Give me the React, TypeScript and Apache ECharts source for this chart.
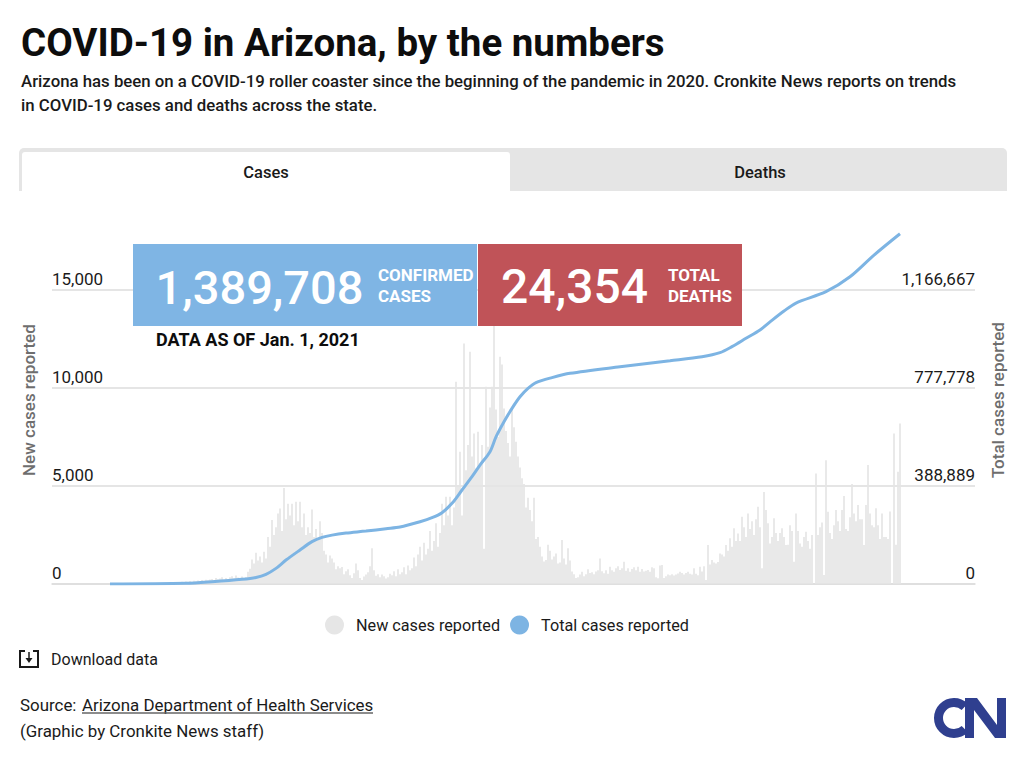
import React, { useEffect, useRef } from "react";
import * as echarts from "echarts";

const FONT = "Roboto";
const leftTickStep = 5000;
const rightTickStep = 388889;
const seriesNames = ["New cases reported", "Total cases reported"];
const newCases = [
  0,0,0,0,0,0,0,0,0,0,
  0,0,0,0,0,0,0,0,0,0,
  10,10,20,20,30,30,40,50,40,60,
  70,60,80,90,70,90,110,100,130,110,
  150,120,160,140,180,150,200,170,220,190,
  230,260,180,310,240,280,350,220,300,260,
  340,400,290,430,330,270,380,310,360,620,
  780,1250,1050,1600,1200,1400,1100,1650,1300,2400,
  1900,3270,2500,2900,3600,3850,2700,4900,3300,4100,
  3500,4100,3000,4200,3200,4200,2900,3600,2500,2900,
  2600,3800,2400,2800,2300,3200,2600,1700,1500,1100,
  1450,1300,1100,750,900,800,870,500,650,750,
  450,300,550,1050,700,300,200,380,480,600,
  900,1830,700,420,500,350,480,400,280,350,
  520,450,650,400,750,500,600,850,500,950,
  700,800,1350,900,1500,1900,1200,2100,1500,1800,
  2700,1700,2200,3100,1900,2600,4100,3000,4450,3500,
  4450,3000,3900,10320,5000,6750,3500,12270,5800,7090,
  11850,6500,7680,5900,7770,6000,7090,1800,10060,7000,
  9000,10060,13300,8900,7500,11600,11200,8960,7800,7200,
  6500,8960,8000,7260,6500,5950,5400,5100,3900,4400,
  3770,3200,4400,2300,2400,1900,1400,1150,1220,2000,
  1700,1250,1400,1560,1050,1100,2240,1300,1000,1820,
  1200,640,500,300,350,480,630,400,500,750,
  560,600,500,640,700,1300,650,550,700,520,
  880,700,620,800,900,720,800,1140,680,800,
  620,760,860,700,880,620,760,640,680,720,
  620,850,800,350,290,950,970,300,400,480,
  450,500,430,480,540,620,560,480,560,620,
  520,480,800,520,450,880,640,900,200,1990,
  1000,1220,1100,1050,1120,1560,1500,1400,1990,1700,
  2330,1900,2840,2200,2580,2200,3430,2900,2400,3600,
  2800,3200,2500,3300,3940,2900,800,4700,3770,3100,
  2070,2400,3350,2600,2200,2600,2840,2400,1990,2000,
  3000,2700,1140,3600,2700,2070,1900,2400,2670,2200,
  1800,2500,0,5640,2500,2900,3140,460,6320,3690,
  2600,2300,3000,3770,3200,2700,3770,4490,2800,2700,
  3400,5100,3600,3200,4030,3300,3300,1990,4030,6070,
  3600,3000,2900,3860,3000,2300,3600,2400,2400,2300,
  3700,0,7680,2000,5730,8190,
];
const totalAt = [0,38,51,66,73,78,83,88,95,101,106,111,118,128,138,145,155,161,166,171,176,181,185,190,193,197,201,205,209,213,221,230,255,280,296,305,311,318,325,330,337,343,358,370,382,395];
const totalCases = [0,2800,9000,18600,26000,38500,62000,95000,135000,168000,185000,194000,202000,210000,219500,226000,247000,263000,283000,320000,373000,426000,472000,525000,584000,644000,697000,743000,776000,799000,819000,836000,862000,886000,902000,918000,942000,975000,1008000,1040000,1083000,1115000,1160000,1219000,1305000,1389708];

const txt = (text: string, x: number, y: number, size: number, weight: number | string, fill = "#1a1a1a", align = "left") => ({
  type: "text", x, y, z: 110,
  style: { text, fontFamily: FONT, fontSize: size, fontWeight: weight, fill, align, verticalAlign: "middle" },
});

export default function App() {
  const ref = useRef<HTMLDivElement>(null);
  useEffect(() => {
    document.body.style.margin = "0";
    const chart = echarts.init(ref.current!, null, { renderer: "svg" });
    chart.setOption({
      animation: false,
      backgroundColor: "#ffffff",
      textStyle: { fontFamily: FONT },
      grid: { left: 52, right: 49, top: 231.2, bottom: 185, containLabel: false },
      legend: {
        data: seriesNames, left: 325, top: 615.5, padding: 0, icon: "circle", itemWidth: 19, itemHeight: 19, itemGap: 10,
        textStyle: { fontFamily: FONT, fontSize: 16.2, fontWeight: 400, color: "#1a1a1a", padding: [0, 0, 0, 7] },
        selectedMode: false,
      },
      xAxis: {
        type: "value", min: -29, max: 432.5,
        axisLabel: { show: false }, axisTick: { show: false }, splitLine: { show: false },
        axisLine: { show: true, onZero: false, lineStyle: { color: "#dddddd", width: 1.5 } },
      },
      yAxis: [
        {
          type: "value", min: 0, max: 18000, interval: leftTickStep, position: "left",
          name: "New cases reported", nameLocation: "middle", nameGap: 15, nameRotate: 90,
          nameTextStyle: { fontFamily: FONT, fontSize: 17, fontWeight: 500, color: "#6e6e6e", padding: [0, 0, 0, 15] },
          axisLine: { show: false }, axisTick: { show: false },
          axisLabel: {
            inside: true, margin: 0, showMaxLabel: false, verticalAlign: "bottom", padding: [0, 0, 2, 0],
            fontFamily: FONT, fontSize: 17, color: "#1a1a1a", lineHeight: 18,
            formatter: (v: number) => v.toLocaleString("en-US"),
          },
          splitLine: { show: true, showMaxLine: false, lineStyle: { color: "#dddddd", width: 1.5 } },
        },
        {
          type: "value", min: 0, max: 1400000, interval: rightTickStep, position: "right",
          name: "Total cases reported", nameLocation: "middle", nameGap: 14, nameRotate: 90,
          nameTextStyle: { fontFamily: FONT, fontSize: 17, fontWeight: 500, color: "#6e6e6e", padding: [0, 0, 0, 15] },
          axisLine: { show: false }, axisTick: { show: false }, splitLine: { show: false },
          axisLabel: {
            inside: true, margin: 0, showMaxLabel: false, verticalAlign: "bottom", padding: [0, 0, 2, 0],
            fontFamily: FONT, fontSize: 17, color: "#1a1a1a", lineHeight: 18,
            formatter: (v: number) => v.toLocaleString("en-US"),
          },
        },
      ],
      series: [
        {
          name: seriesNames[0], type: "bar", yAxisIndex: 0, barWidth: 1.7,
          itemStyle: { color: "#e6e6e6" },
          data: newCases.map((v, i) => [i, v]),
        },
        {
          name: seriesNames[1], type: "line", yAxisIndex: 1, symbol: "none", smooth: 0.3, z: 5,
          lineStyle: { color: "#7db4e3", width: 3 },
          itemStyle: { color: "#7db4e3" },
          data: totalCases.map((v, i) => [totalAt[i], v]),
        },
      ],
      graphic: [
        txt("COVID-19 in Arizona, by the numbers", 21, 42, 38.5, 700, "#0d0d0d"),
        txt("Arizona has been on a COVID-19 roller coaster since the beginning of the pandemic in 2020. Cronkite News reports on trends", 21, 81, 16.8, 500),
        txt("in COVID-19 cases and deaths across the state.", 21, 105, 16.8, 500),
        { type: "rect", z: 100, shape: { x: 19, y: 148, width: 988, height: 43, r: [5, 5, 0, 0] }, style: { fill: "#e5e5e5" } },
        { type: "rect", z: 101, shape: { x: 22, y: 152, width: 488, height: 39, r: [3, 3, 0, 0] }, style: { fill: "#ffffff" } },
        txt("Cases", 266, 172, 16.5, 500, "#1a1a1a", "center"),
        txt("Deaths", 760, 172, 16.5, 500, "#1a1a1a", "center"),
        { type: "rect", z: 100, shape: { x: 133, y: 244, width: 344, height: 82 }, style: { fill: "#7fb5e4" } },
        { type: "rect", z: 100, shape: { x: 478, y: 244, width: 264, height: 82 }, style: { fill: "#c05358" } },
        txt("1,389,708", 155.5, 287, 47, 500, "#ffffff"),
        txt("CONFIRMED", 378, 275, 17, 700, "#ffffff"),
        txt("CASES", 378, 296, 17, 700, "#ffffff"),
        txt("24,354", 501, 286, 48, 500, "#ffffff"),
        txt("TOTAL", 668, 275, 17, 700, "#ffffff"),
        txt("DEATHS", 668, 296, 17, 700, "#ffffff"),
        txt("DATA AS OF Jan. 1, 2021", 156, 339, 18, 700, "#0d0d0d"),
        { type: "polyline", z: 110, shape: { points: [[25, 651], [20, 651], [20, 667], [38, 667], [38, 651], [33, 651]] }, style: { fill: "none", stroke: "#1a1a1a", lineWidth: 2 } },
        { type: "line", z: 110, shape: { x1: 29, y1: 652, x2: 29, y2: 660 }, style: { stroke: "#1a1a1a", lineWidth: 1.5 } },
        { type: "polygon", z: 110, shape: { points: [[25.5, 658], [32.5, 658], [29, 663]] }, style: { fill: "#1a1a1a" } },
        txt("Download data", 51, 659, 16, 400),
        txt("Source: ", 20, 705, 16.9, 400),
        txt("Arizona Department of Health Services", 82, 705, 16.9, 400),
        { type: "line", z: 110, shape: { x1: 82, y1: 713, x2: 373, y2: 713 }, style: { stroke: "#666666", lineWidth: 1.5 } },
        txt("(Graphic by Cronkite News staff)", 20, 731, 16.9, 400),
        { type: "arc", z: 110, shape: { cx: 954, cy: 718, r: 15.5, startAngle: 0.8, endAngle: 5.48, clockwise: true }, style: { fill: "none", stroke: "#2f3f8f", lineWidth: 9 } },
        { type: "polygon", z: 110, shape: { points: [[965, 698], [977, 698], [997, 725], [997, 698], [1006, 698], [1006, 738], [995, 738], [974, 710], [974, 738], [965, 738]] }, style: { fill: "#2f3f8f" } },
      ],
    });
    return () => chart.dispose();
  }, []);
  return <div ref={ref} style={{ width: 1024, height: 769 }} />;
}
